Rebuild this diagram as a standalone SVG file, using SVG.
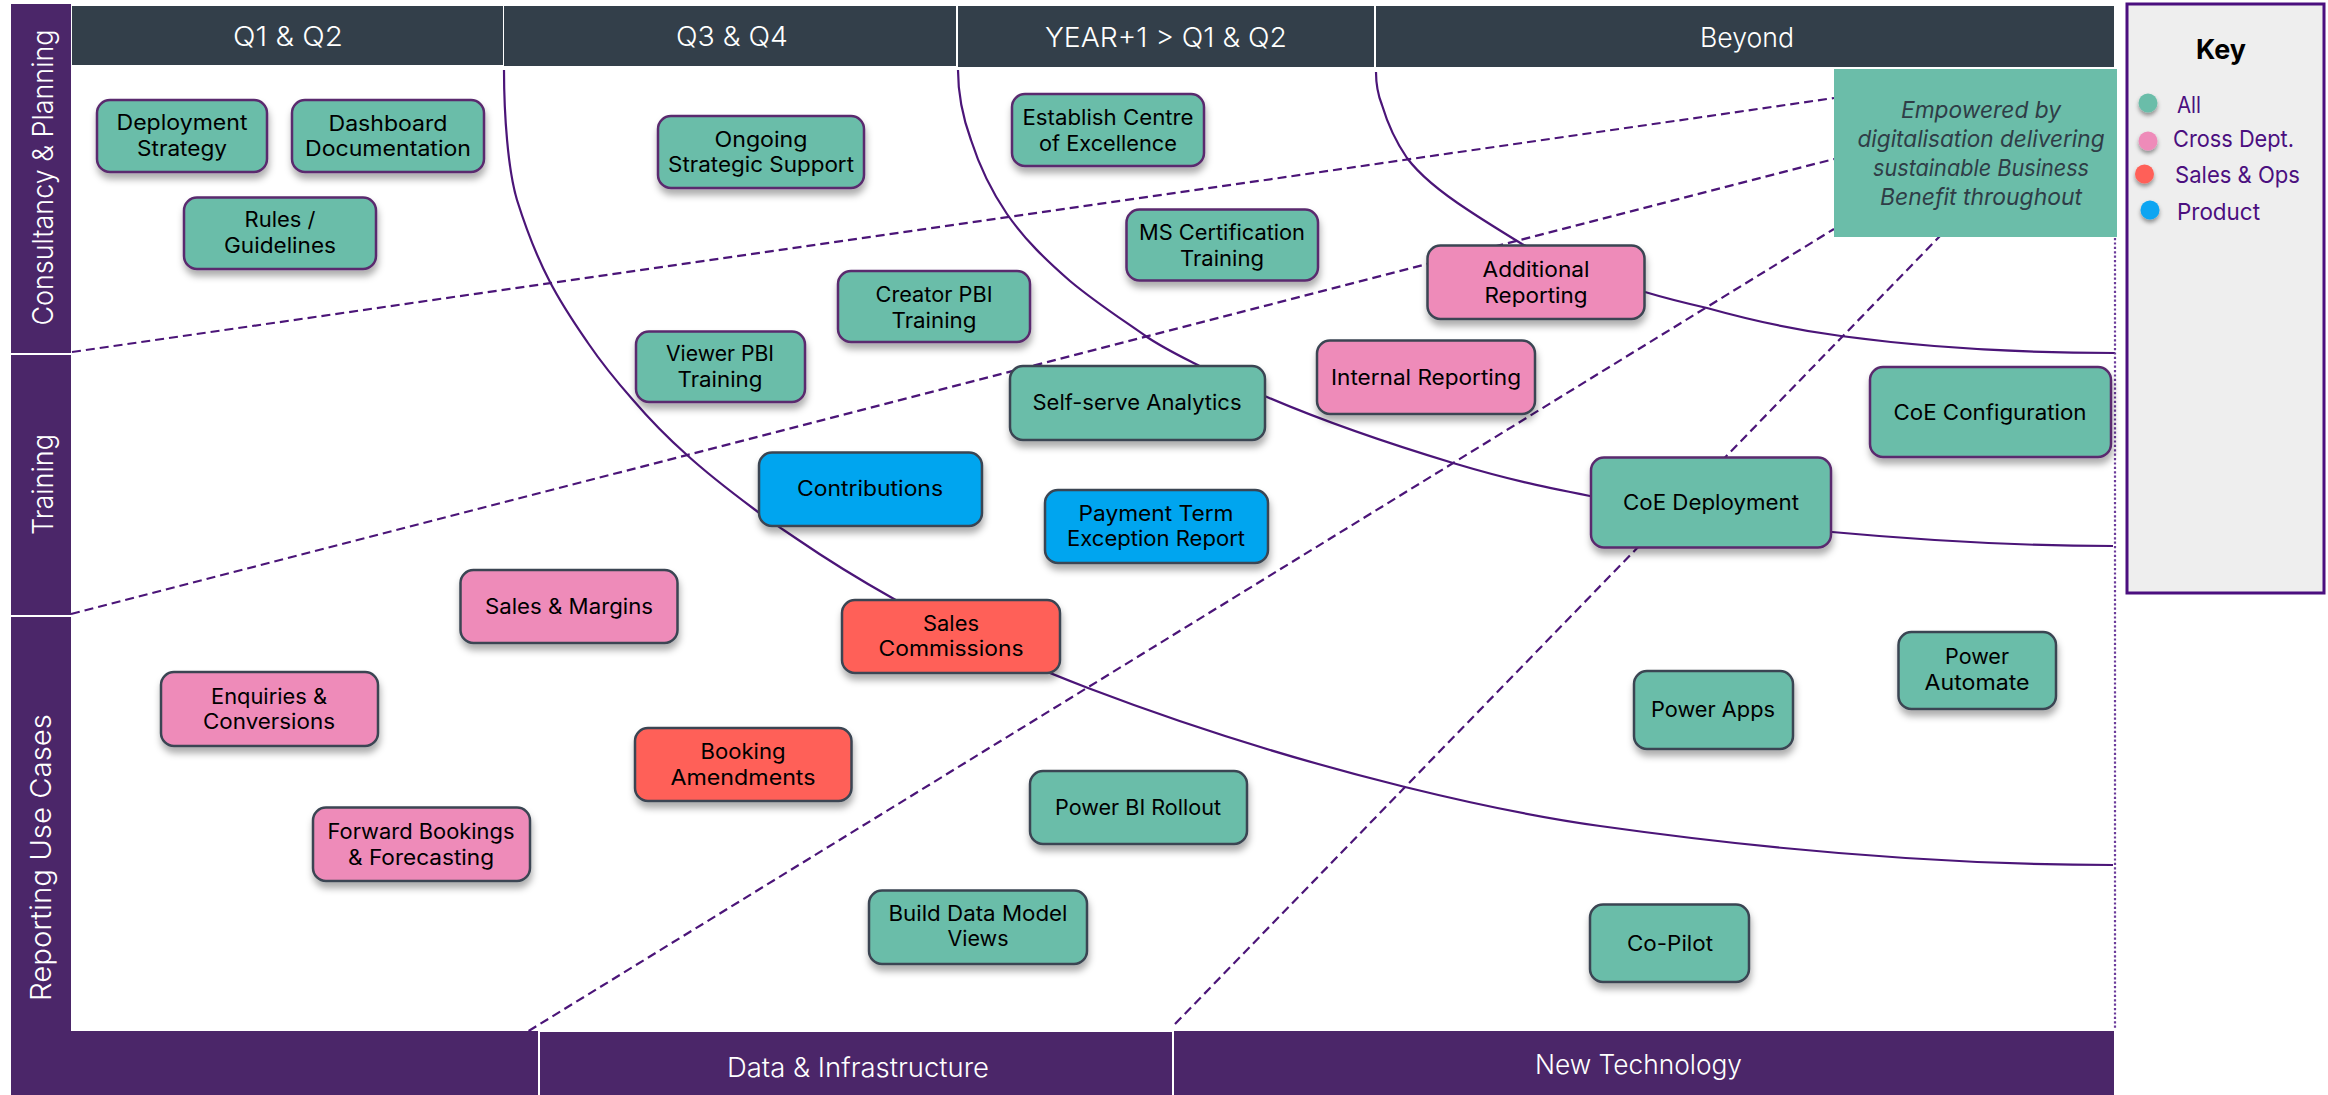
<svg xmlns="http://www.w3.org/2000/svg" width="2328" height="1095" viewBox="0 0 2328 1095">
<defs>
<filter id="sh" x="-15%" y="-20%" width="130%" height="150%"><feDropShadow dx="1" dy="6" stdDeviation="3.5" flood-color="#000" flood-opacity="0.32"/></filter>
<filter id="dot" x="-50%" y="-50%" width="200%" height="220%"><feDropShadow dx="0" dy="3" stdDeviation="2" flood-color="#000" flood-opacity="0.4"/></filter>
</defs>
<style>
text{font-family:"Inter","Open Sans","Liberation Sans",sans-serif}
.n rect{rx:13px;ry:13px;stroke-width:2.5;filter:url(#sh)}
.n text{font-size:21px;fill:#000;text-anchor:middle}
.g rect{fill:#6bbda9}.p rect{fill:#ee8bb9}.r rect{fill:#ff6158}.b rect{fill:#00a5ef}
.pu rect{stroke:#5a2a6e}.da rect{stroke:#3a4552}
.band{fill:#4b2669}.head{fill:#333f4a}
.w{fill:#fff;font-weight:300;font-size:27px}
.v{font-size:29px}
.curve{fill:none;stroke:#4b1578;stroke-width:2.2}
.dash{fill:none;stroke:#4b1578;stroke-width:2.2;stroke-dasharray:9 5}
.k{fill:#4b0f7f;font-size:23px}
.em{fill:#2f3d47;font-style:italic;font-size:23px;font-weight:400;text-anchor:middle}
</style>
<rect width="2328" height="1095" fill="#fff"/>
<g id="bands">
<rect class="band" x="11" y="4" width="60" height="349"/>
<rect class="band" x="11" y="355" width="60" height="260"/>
<rect class="band" x="11" y="617" width="60" height="478"/>
<rect class="band" x="11" y="1031" width="527" height="64"/>
<rect class="band" x="540" y="1032" width="632" height="63"/>
<rect class="band" x="1174" y="1031" width="940" height="64"/>
<rect class="head" x="72" y="6" width="431" height="59"/>
<rect class="head" x="504" y="6" width="452" height="60"/>
<rect class="head" x="958" y="6" width="416" height="61"/>
<rect class="head" x="1376" y="6" width="738" height="61"/>
</g>
<g id="band-labels">
<text class="w v" transform="translate(52.5 325.5) rotate(-90)" textLength="296" lengthAdjust="spacingAndGlyphs">Consultancy &amp; Planning</text>
<text class="w v" transform="translate(52.5 535) rotate(-90)" textLength="101" lengthAdjust="spacingAndGlyphs">Training</text>
<text class="w v" transform="translate(51 1001) rotate(-90)" textLength="287" lengthAdjust="spacingAndGlyphs">Reporting Use Cases</text>
<text class="w" x="233" y="46" textLength="110" lengthAdjust="spacingAndGlyphs">Q1 &amp; Q2</text>
<text class="w" x="676" y="46" textLength="112" lengthAdjust="spacingAndGlyphs">Q3 &amp; Q4</text>
<text class="w" x="1045" y="47" textLength="242" lengthAdjust="spacingAndGlyphs">YEAR+1 &gt; Q1 &amp; Q2</text>
<text class="w" x="1700" y="47" textLength="94" lengthAdjust="spacingAndGlyphs">Beyond</text>
<text class="w" x="727" y="1077" textLength="262" lengthAdjust="spacingAndGlyphs">Data &amp; Infrastructure</text>
<text class="w" x="1535" y="1074" textLength="207" lengthAdjust="spacingAndGlyphs">New Technology</text>
</g>
<g id="connectors">
<path class="curve" d="M504,70 C504,115 508,170 517,200 C528,235 539,261 550,282 C563,307 575,324 588,343 C603,365 618,383 633,400 C651,421 669,439 687,455 C711,477 734,494 758,512 C771,522 784,530 797,539 C829,561 862,581 894,599 C959,636 1023,663 1088,688 C1193,728 1300,761 1405,787 C1470,803 1535,817 1600,826 C1770,850 1950,865 2113,865"/>
<path class="curve" d="M958,70 C958,95 963,118 971,140 C980,168 992,192 1007,214 C1025,240 1046,260 1070,281 C1095,302 1120,318 1147,337 C1165,349 1182,357 1199.5,366 C1220,377 1245,388 1267,397 C1330,424 1390,444 1453,463 C1510,480 1540,486 1590,496 C1680,512 1760,525 1832,532 C1930,541 2030,546 2113,546"/>
<path class="curve" d="M1376,72 C1376,85 1378,95 1382,105 C1388,125 1396,142 1407,158 C1422,178 1445,195 1468,210 C1486,222 1504,233 1522,244 C1560,265 1610,280 1645,292 C1665,298 1685,303 1707,308 C1750,320 1795,330 1841,336 C1930,348 2020,353 2115,353"/>
<line class="dash" x1="72" y1="352" x2="1834" y2="98"/>
<line class="dash" x1="71" y1="614" x2="1834" y2="159"/>
<line class="dash" x1="528.6" y1="1031" x2="1834" y2="229"/>
<line class="dash" x1="1175" y1="1024" x2="1942" y2="234"/>
<line x1="2115" y1="238" x2="2115" y2="1028" fill="none" stroke="#6b3a9a" stroke-width="2.2" stroke-dasharray="2.2 2.2"/>
</g>
<g id="vision">
<rect x="1834" y="69" width="283" height="168" fill="#6bbda9"/>
<text class="em" x="1981" y="118" textLength="160" lengthAdjust="spacingAndGlyphs">Empowered by</text>
<text class="em" x="1981" y="147" textLength="247" lengthAdjust="spacingAndGlyphs">digitalisation delivering</text>
<text class="em" x="1981" y="176" textLength="216" lengthAdjust="spacingAndGlyphs">sustainable Business</text>
<text class="em" x="1981" y="205" textLength="202" lengthAdjust="spacingAndGlyphs">Benefit throughout</text>
</g>
<g id="n1" class="n g pu"><rect x="97" y="100" width="170" height="72"/><text x="182" y="130" textLength="131" lengthAdjust="spacingAndGlyphs">Deployment</text><text x="182" y="156" textLength="90" lengthAdjust="spacingAndGlyphs">Strategy</text></g>
<g id="n2" class="n g pu"><rect x="292" y="100" width="192" height="72"/><text x="388" y="131" textLength="119" lengthAdjust="spacingAndGlyphs">Dashboard</text><text x="388" y="156" textLength="166" lengthAdjust="spacingAndGlyphs">Documentation</text></g>
<g id="n3" class="n g pu"><rect x="184" y="197.5" width="192" height="71.5"/><text x="280" y="227" textLength="71" lengthAdjust="spacingAndGlyphs">Rules /</text><text x="280" y="253" textLength="112" lengthAdjust="spacingAndGlyphs">Guidelines</text></g>
<g id="n4" class="n g pu"><rect x="658" y="116" width="206" height="72"/><text x="761" y="147" textLength="93" lengthAdjust="spacingAndGlyphs">Ongoing</text><text x="761" y="172" textLength="186" lengthAdjust="spacingAndGlyphs">Strategic Support</text></g>
<g id="n5" class="n g pu"><rect x="636" y="331.5" width="169" height="70.5"/><text x="720" y="361" textLength="108" lengthAdjust="spacingAndGlyphs">Viewer PBI</text><text x="720" y="387" textLength="85" lengthAdjust="spacingAndGlyphs">Training</text></g>
<g id="n6" class="n g pu"><rect x="1012" y="94" width="192" height="72"/><text x="1108" y="125" textLength="171" lengthAdjust="spacingAndGlyphs">Establish Centre</text><text x="1108" y="151" textLength="138" lengthAdjust="spacingAndGlyphs">of Excellence</text></g>
<g id="n7" class="n g pu"><rect x="1126.5" y="209.5" width="191.5" height="71"/><text x="1222" y="240" textLength="166" lengthAdjust="spacingAndGlyphs">MS Certification</text><text x="1222" y="266" textLength="84" lengthAdjust="spacingAndGlyphs">Training</text></g>
<g id="n8" class="n g pu"><rect x="838" y="271" width="192" height="71"/><text x="934" y="302" textLength="117" lengthAdjust="spacingAndGlyphs">Creator PBI</text><text x="934" y="328" textLength="85" lengthAdjust="spacingAndGlyphs">Training</text></g>
<g id="n9" class="n g da"><rect x="1010" y="366" width="255" height="74"/><text x="1137" y="410" textLength="209" lengthAdjust="spacingAndGlyphs">Self-serve Analytics</text></g>
<g id="n10" class="n p da"><rect x="1317" y="340.5" width="218" height="73.5"/><text x="1426" y="385" textLength="190" lengthAdjust="spacingAndGlyphs">Internal Reporting</text></g>
<g id="n11" class="n p da"><rect x="1427.5" y="245.5" width="217" height="73.5"/><text x="1536" y="277" textLength="107" lengthAdjust="spacingAndGlyphs">Additional</text><text x="1536" y="303" textLength="103" lengthAdjust="spacingAndGlyphs">Reporting</text></g>
<g id="n12" class="n b da"><rect x="759" y="452.5" width="223" height="73.5"/><text x="870" y="496" textLength="146" lengthAdjust="spacingAndGlyphs">Contributions</text></g>
<g id="n13" class="n b da"><rect x="1045" y="490" width="223" height="73"/><text x="1156" y="521" textLength="155" lengthAdjust="spacingAndGlyphs">Payment Term</text><text x="1156" y="546" textLength="178" lengthAdjust="spacingAndGlyphs">Exception Report</text></g>
<g id="n14" class="n g pu"><rect x="1870" y="367" width="241" height="90"/><text x="1990" y="420" textLength="193" lengthAdjust="spacingAndGlyphs">CoE Configuration</text></g>
<g id="n15" class="n g pu"><rect x="1591" y="457.5" width="240" height="90"/><text x="1711" y="510" textLength="176" lengthAdjust="spacingAndGlyphs">CoE Deployment</text></g>
<g id="n16" class="n p da"><rect x="460.5" y="570" width="217" height="73"/><text x="569" y="614" textLength="168" lengthAdjust="spacingAndGlyphs">Sales &amp; Margins</text></g>
<g id="n17" class="n p da"><rect x="161" y="672" width="217" height="74"/><text x="269" y="704" textLength="116" lengthAdjust="spacingAndGlyphs">Enquiries &amp;</text><text x="269" y="729" textLength="132" lengthAdjust="spacingAndGlyphs">Conversions</text></g>
<g id="n18" class="n p da"><rect x="313" y="807.5" width="217" height="73.5"/><text x="421" y="839" textLength="187" lengthAdjust="spacingAndGlyphs">Forward Bookings</text><text x="421" y="865" textLength="146" lengthAdjust="spacingAndGlyphs">&amp; Forecasting</text></g>
<g id="n19" class="n r da"><rect x="635" y="728" width="216.5" height="73"/><text x="743" y="759" textLength="85" lengthAdjust="spacingAndGlyphs">Booking</text><text x="743" y="785" textLength="145" lengthAdjust="spacingAndGlyphs">Amendments</text></g>
<g id="n20" class="n r da"><rect x="842" y="600" width="218" height="73"/><text x="951" y="631" textLength="56" lengthAdjust="spacingAndGlyphs">Sales</text><text x="951" y="656" textLength="145" lengthAdjust="spacingAndGlyphs">Commissions</text></g>
<g id="n21" class="n g da"><rect x="1030" y="771" width="217" height="73"/><text x="1138" y="815" textLength="166" lengthAdjust="spacingAndGlyphs">Power BI Rollout</text></g>
<g id="n22" class="n g da"><rect x="869" y="890.5" width="218" height="73.5"/><text x="978" y="921" textLength="179" lengthAdjust="spacingAndGlyphs">Build Data Model</text><text x="978" y="946" textLength="61" lengthAdjust="spacingAndGlyphs">Views</text></g>
<g id="n23" class="n g da"><rect x="1634" y="671" width="159" height="78"/><text x="1713" y="717" textLength="124" lengthAdjust="spacingAndGlyphs">Power Apps</text></g>
<g id="n24" class="n g da"><rect x="1898.5" y="632" width="157.5" height="77"/><text x="1977" y="664" textLength="64" lengthAdjust="spacingAndGlyphs">Power</text><text x="1977" y="690" textLength="105" lengthAdjust="spacingAndGlyphs">Automate</text></g>
<g id="n25" class="n g da"><rect x="1590" y="904.5" width="159" height="77.5"/><text x="1670" y="951" textLength="86" lengthAdjust="spacingAndGlyphs">Co-Pilot</text></g>
<g id="key">
<rect x="2127" y="4" width="197" height="589" fill="#eeeeee" stroke="#4b0f7f" stroke-width="3"/>
<text x="2221" y="59" font-size="27" font-weight="700" fill="#000" text-anchor="middle" textLength="50" lengthAdjust="spacingAndGlyphs">Key</text>
<circle cx="2148" cy="103" r="9.5" fill="#6bbda9" filter="url(#dot)"/><text class="k" x="2177" y="113" textLength="24" lengthAdjust="spacingAndGlyphs">All</text>
<circle cx="2148" cy="141" r="9.5" fill="#ee8bb9" filter="url(#dot)"/><text class="k" x="2173" y="147" textLength="121" lengthAdjust="spacingAndGlyphs">Cross Dept.</text>
<circle cx="2144.5" cy="174" r="9.5" fill="#ff6158" filter="url(#dot)"/><text class="k" x="2175" y="183" textLength="125" lengthAdjust="spacingAndGlyphs">Sales &amp; Ops</text>
<circle cx="2150" cy="210" r="9.5" fill="#0aa5f2" filter="url(#dot)"/><text class="k" x="2177" y="219.5" textLength="83" lengthAdjust="spacingAndGlyphs">Product</text>
</g>
</svg>
